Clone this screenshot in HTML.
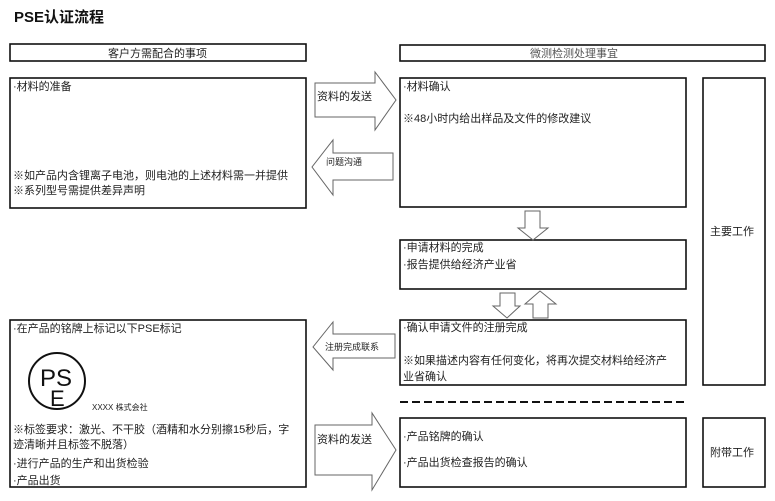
<!DOCTYPE html>
<html><head><meta charset="utf-8"><style>
body{margin:0;background:#fff;}
svg{display:block;font-family:"Liberation Sans","Noto Sans CJK SC",sans-serif;}
text{font-size:11px;fill:#222;}
</style></head><body>
<svg width="775" height="501" viewBox="0 0 775 501">
<text x="14" y="22" style="font-size:15px;font-weight:bold;fill:#111">PSE认证流程</text>
<g fill="none" stroke="#111" stroke-width="1.6">
<rect x="10" y="44" width="296" height="17"/>
<rect x="400" y="45" width="365" height="16"/>
<rect x="10" y="78" width="296" height="130"/>
<rect x="400" y="78" width="286" height="129"/>
<rect x="703" y="78" width="62" height="307"/>
<rect x="400" y="240" width="286" height="49"/>
<rect x="400" y="320" width="286" height="65"/>
<rect x="10" y="320" width="296" height="167"/>
<rect x="400" y="418" width="286" height="69"/>
<rect x="703" y="418" width="62" height="69"/>
<line x1="400" y1="402" x2="684" y2="402" stroke-dasharray="8,4" stroke-width="2"/>
</g>
<g fill="#fff" stroke="#666" stroke-width="1">
<polygon points="315,83 375,83 375,72 396,100 375,130 375,117 315,117"/>
<polygon points="393,153 333,153 333,140 312,167 333,195 333,180 393,180"/>
<polygon points="525,211 540,211 540,228 548,228 533,240 518,228 525,228"/>
<polygon points="500,293 515,293 515,306 520,306 507,318 493,306 500,306"/>
<polygon points="533,318 548,318 548,304 556,304 540,291 525,304 533,304"/>
<polygon points="395,334 333,334 333,322 313,347 333,370 333,358 395,358"/>
<polygon points="315,425 372,425 372,413 396,450 372,490 372,475 315,475"/>
</g>
<text x="108" y="57">客户方需配合的事项</text>
<text x="530" y="57" style="fill:#555">微测检测处理事宜</text>
<text x="13" y="90">·材料的准备</text>
<text x="13" y="179">※如产品内含锂离子电池，则电池的上述材料需一并提供</text>
<text x="13" y="194">※系列型号需提供差异声明</text>
<text x="317" y="100">资料的发送</text>
<text x="326" y="165" style="font-size:9px">问题沟通</text>
<text x="403" y="90">·材料确认</text>
<text x="403" y="122">※48小时内给出样品及文件的修改建议</text>
<text x="710" y="235">主要工作</text>
<text x="403" y="251">·申请材料的完成</text>
<text x="403" y="268">·报告提供给经济产业省</text>
<text x="403" y="331">·确认申请文件的注册完成</text>
<text x="403" y="364">※如果描述内容有任何变化，将再次提交材料给经济产</text>
<text x="403" y="380">业省确认</text>
<text x="325" y="350" style="font-size:9px">注册完成联系</text>
<text x="13" y="332">·在产品的铭牌上标记以下PSE标记</text>
<circle cx="57" cy="381" r="28" fill="none" stroke="#111" stroke-width="2"/>
<text x="40" y="386" style="font-size:24px;fill:#111">PS</text>
<text x="50" y="406" style="font-size:22px;fill:#111">E</text>
<text x="92" y="410" style="font-size:8px">XXXX 株式会社</text>
<text x="13" y="433">※标签要求：激光、不干胶（酒精和水分别擦15秒后，字</text>
<text x="13" y="448">迹清晰并且标签不脱落）</text>
<text x="13" y="467">·进行产品的生产和出货检验</text>
<text x="13" y="484">·产品出货</text>
<text x="317" y="443">资料的发送</text>
<text x="403" y="440">·产品铭牌的确认</text>
<text x="403" y="466">·产品出货检查报告的确认</text>
<text x="710" y="456">附带工作</text>
</svg>
</body></html>
